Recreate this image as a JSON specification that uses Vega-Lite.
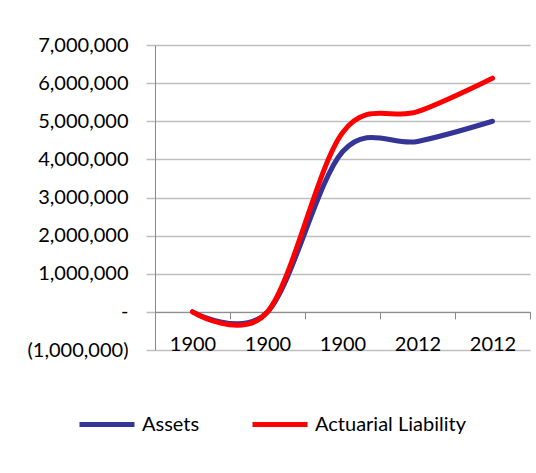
{
  "$schema": "https://vega.github.io/schema/vega-lite/v6.json",
  "width": 375,
  "height": 305,
  "autosize": {"type": "none"},
  "padding": {"left": 155, "top": 45, "right": 6, "bottom": 123},
  "background": "white",
  "config": {"view": {"stroke": null}, "font": "Lato"},
  "data": {
    "values": [
      {"pos": 1, "series": "Assets", "value": 0},
      {"pos": 2, "series": "Assets", "value": 0},
      {"pos": 3, "series": "Assets", "value": 4200000},
      {"pos": 4, "series": "Assets", "value": 4470000},
      {"pos": 5, "series": "Assets", "value": 5000000},
      {"pos": 1, "series": "Actuarial Liability", "value": 0},
      {"pos": 2, "series": "Actuarial Liability", "value": 0},
      {"pos": 3, "series": "Actuarial Liability", "value": 4700000},
      {"pos": 4, "series": "Actuarial Liability", "value": 5250000},
      {"pos": 5, "series": "Actuarial Liability", "value": 6130000}
    ]
  },
  "mark": {"type": "line", "interpolate": "cardinal", "strokeWidth": 5, "strokeCap": "round", "strokeJoin": "round"},
  "encoding": {
    "x": {
      "field": "pos",
      "type": "quantitative",
      "scale": {"domain": [0.5, 5.5], "nice": false, "zero": false},
      "axis": {
        "title": null,
        "values": [0.5, 1, 1.5, 2, 2.5, 3, 3.5, 4, 4.5, 5, 5.5],
        "offset": -38.125,
        "grid": false,
        "domainColor": "#888888",
        "domainWidth": 1,
        "tickColor": {"condition": {"test": "datum.value % 1 == 0", "value": "transparent"}, "value": "#888888"},
        "tickSize": 7,
        "labelExpr": "datum.value % 1 == 0 ? ['', '1900', '1900', '1900', '2012', '2012'][datum.value] : ''",
        "labelFontSize": 20,
        "labelColor": "#000000",
        "labelPadding": 16,
        "labelOverlap": false,
        "labelFlush": false
      }
    },
    "y": {
      "field": "value",
      "type": "quantitative",
      "scale": {"domain": [-1000000, 7000000], "nice": false},
      "axis": {
        "title": null,
        "values": [-1000000, 0, 1000000, 2000000, 3000000, 4000000, 5000000, 6000000, 7000000],
        "grid": true,
        "gridColor": "#bfbfbf",
        "gridWidth": 1.5,
        "domainColor": "#888888",
        "domainWidth": 1,
        "tickColor": "#bfbfbf",
        "tickWidth": 1.5,
        "tickSize": 9,
        "labelFontSize": 20,
        "labelColor": "#000000",
        "labelPadding": 18,
        "labelFlush": false,
        "labelOverlap": false,
        "labelExpr": "datum.value == 0 ? '-\u00a0\u00a0' : (datum.value < 0 ? '(' + format(-datum.value, ',') + ')' : format(datum.value, ',') + '\u00a0\u00a0')"
      }
    },
    "color": {
      "field": "series",
      "type": "nominal",
      "scale": {"domain": ["Assets", "Actuarial Liability"], "range": ["#353597", "#ff0000"]},
      "legend": {
        "orient": "none",
        "legendX": -78,
        "legendY": 349.5,
        "direction": "horizontal",
        "title": null,
        "symbolType": "stroke",
        "symbolSize": 3025,
        "symbolStrokeWidth": 5,
        "labelFontSize": 20,
        "labelColor": "#000000",
        "labelOffset": 5,
        "columnPadding": 42,
        "labelLimit": 400,
        "padding": 0
      }
    }
  }
}
